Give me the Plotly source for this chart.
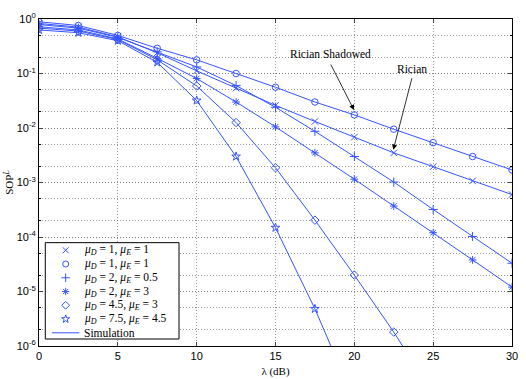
import plotly.graph_objects as go

# SNR grid (dB) and SOP^L values
SNR_DB = [0, 2.5, 5, 7.5, 10, 12.5, 15, 17.5, 20, 22.5, 25, 27.5, 30]

SOP_1_1_RICIAN = [0.83, 0.71, 0.47, 0.24, 0.112, 0.054, 0.026, 0.0132, 0.0068,
                  0.0035, 0.00195, 0.00107, 0.0006]
SOP_1_1_SHADOWED = [0.89, 0.76, 0.50, 0.29, 0.178, 0.10, 0.056, 0.030, 0.0174,
                    0.0095, 0.0054, 0.0030, 0.0017]
SOP_2_05 = [0.79, 0.68, 0.46, 0.25, 0.132, 0.060, 0.024, 0.0087, 0.0030,
            0.00102, 0.00032, 0.000102, 0.000033]
SOP_2_3 = [0.72, 0.63, 0.43, 0.19, 0.081, 0.030, 0.0105, 0.0035, 0.00115,
           0.00037, 0.00012, 0.000038, 0.000012]
SOP_45_3 = [0.68, 0.60, 0.42, 0.178, 0.059, 0.0126, 0.00186, 0.000204, 0.00002,
            1.8e-6, 1.3e-7]
SOP_75_45 = [0.63, 0.56, 0.40, 0.16, 0.032, 0.003, 0.000148, 4.8e-6, 1e-7]

X_TICKS = [0, 5, 10, 15, 20, 25, 30]
Y_TICKS = [1, 0.1, 0.01, 0.001, 1e-4, 1e-5, 1e-6]
Y_TICK_TEXT = ["10<sup>0</sup>", "10<sup>-1</sup>", "10<sup>-2</sup>", "10<sup>-3</sup>",
               "10<sup>-4</sup>", "10<sup>-5</sup>", "10<sup>-6</sup>"]

BLUE = "rgb(55,85,255)"
SERIF = "Liberation Serif, Times New Roman, serif"
SANS = "Liberation Sans, Arial, sans-serif"

SERIES = [
    ("<i>μ<sub>D</sub></i> = 1, <i>μ<sub>E</sub></i> = 1", SOP_1_1_RICIAN, "x-thin-open"),
    ("<i>μ<sub>D</sub></i> = 1, <i>μ<sub>E</sub></i> = 1", SOP_1_1_SHADOWED, "circle-open"),
    ("<i>μ<sub>D</sub></i> = 2, <i>μ<sub>E</sub></i> = 0.5", SOP_2_05, "cross-thin-open"),
    ("<i>μ<sub>D</sub></i> = 2, <i>μ<sub>E</sub></i> = 3", SOP_2_3, "asterisk-open"),
    ("<i>μ<sub>D</sub></i> = 4.5, <i>μ<sub>E</sub></i> = 3", SOP_45_3, "diamond-open"),
    ("<i>μ<sub>D</sub></i> = 7.5, <i>μ<sub>E</sub></i> = 4.5", SOP_75_45, "star-open"),
]

fig = go.Figure()

# simulation curves (solid lines)
for name, vals, sym in SERIES:
    fig.add_trace(go.Scatter(x=SNR_DB[:len(vals)], y=vals, mode="lines",
                             line=dict(color=BLUE, width=1), hoverinfo="skip"))

# analytical markers
for name, vals, sym in SERIES:
    fig.add_trace(go.Scatter(x=SNR_DB[:len(vals)], y=vals, mode="markers", name=name,
                             marker=dict(symbol=sym, size=6.5, color=BLUE,
                                         line=dict(color=BLUE, width=1))))

# hand-drawn legend on an overlay 0..1 axis pair (plotly's own legend rows are too tall)
LX0, LX1, LY0, LY1 = 0.0133, 0.296, 0.0214, 0.316
row_h = (LY1 - LY0) / 7
fig.add_trace(go.Scatter(x=[LX0, LX1, LX1, LX0, LX0], y=[LY0, LY0, LY1, LY1, LY0],
                         xaxis="x2", yaxis="y2", mode="lines", fill="toself",
                         fillcolor="white", line=dict(color="black", width=1),
                         hoverinfo="skip"))
for k, (name, vals, sym) in enumerate(SERIES):
    yk = LY1 - (k + 0.55) * row_h
    fig.add_trace(go.Scatter(x=[0.0564], y=[yk], xaxis="x2", yaxis="y2", mode="markers",
                             marker=dict(symbol=sym, size=6, color=BLUE,
                                         line=dict(color=BLUE, width=1)),
                             hoverinfo="skip"))
    fig.add_annotation(x=0.0903, y=yk, xref="paper", yref="paper", text=name,
                       showarrow=False, xanchor="left", yanchor="middle",
                       font=dict(family=SERIF, size=11.5))
y_sim = LY1 - 6.55 * row_h
fig.add_trace(go.Scatter(x=[0.0271, 0.0852], y=[y_sim, y_sim], xaxis="x2", yaxis="y2",
                         mode="lines", line=dict(color=BLUE, width=1), hoverinfo="skip"))
fig.add_annotation(x=0.0903, y=y_sim, xref="paper", yref="paper", text="Simulation",
                   showarrow=False, xanchor="left", yanchor="middle",
                   font=dict(family=SERIF, size=11.5))

grid = "rgba(110,110,110,0.7)"
fig.update_layout(
    width=526, height=379, plot_bgcolor="white", paper_bgcolor="white",
    margin=dict(l=39, r=14, t=19, b=33, autoexpand=False),
    font=dict(family=SANS, size=11, color="black"), showlegend=False,
    xaxis=dict(range=[0, 30], tickvals=X_TICKS, showline=True, linecolor="black",
               mirror="ticks", ticks="inside", ticklen=4, showgrid=True, gridcolor=grid,
               griddash="1px,2px", gridwidth=1, zeroline=False,
               title=dict(text="λ (dB)", font=dict(family=SERIF, size=11), standoff=6)),
    yaxis=dict(type="log", range=[-6, 0], tickvals=Y_TICKS, ticktext=Y_TICK_TEXT,
               showline=True, linecolor="black", mirror="ticks", ticks="inside",
               ticklen=4, showgrid=True, gridcolor=grid, griddash="1px,2px", zeroline=False,
               minor=dict(showgrid=True, gridcolor=grid, griddash="1px,2px",
                          ticks="inside", ticklen=2, tickcolor="black"),
               title=dict(text="SOP<sup><i>L</i></sup>", font=dict(family=SERIF, size=11),
                          standoff=0)),
    xaxis2=dict(overlaying="x", range=[0, 1], visible=False, fixedrange=True),
    yaxis2=dict(overlaying="y", range=[0, 1], visible=False, fixedrange=True),
)

fig.add_annotation(x=18.46, y=-0.642, text="Rician Shadowed", showarrow=False,
                   font=dict(family=SERIF, size=11.5))
fig.add_annotation(x=23.64, y=-0.917, text="Rician", showarrow=False,
                   font=dict(family=SERIF, size=11.5))
fig.add_annotation(x=19.98, y=-1.67, text="", showarrow=True, ax=-24, ay=-47,
                   arrowhead=2, arrowsize=1.3, arrowwidth=0.8, arrowcolor="black")
fig.add_annotation(x=22.47, y=-2.40, text="", showarrow=True, ax=19, ay=-73,
                   arrowhead=2, arrowsize=1.3, arrowwidth=0.8, arrowcolor="black")

fig.write_html("out.html", config={"displayModeBar": False},
               post_script="document.body.style.margin='0';")
